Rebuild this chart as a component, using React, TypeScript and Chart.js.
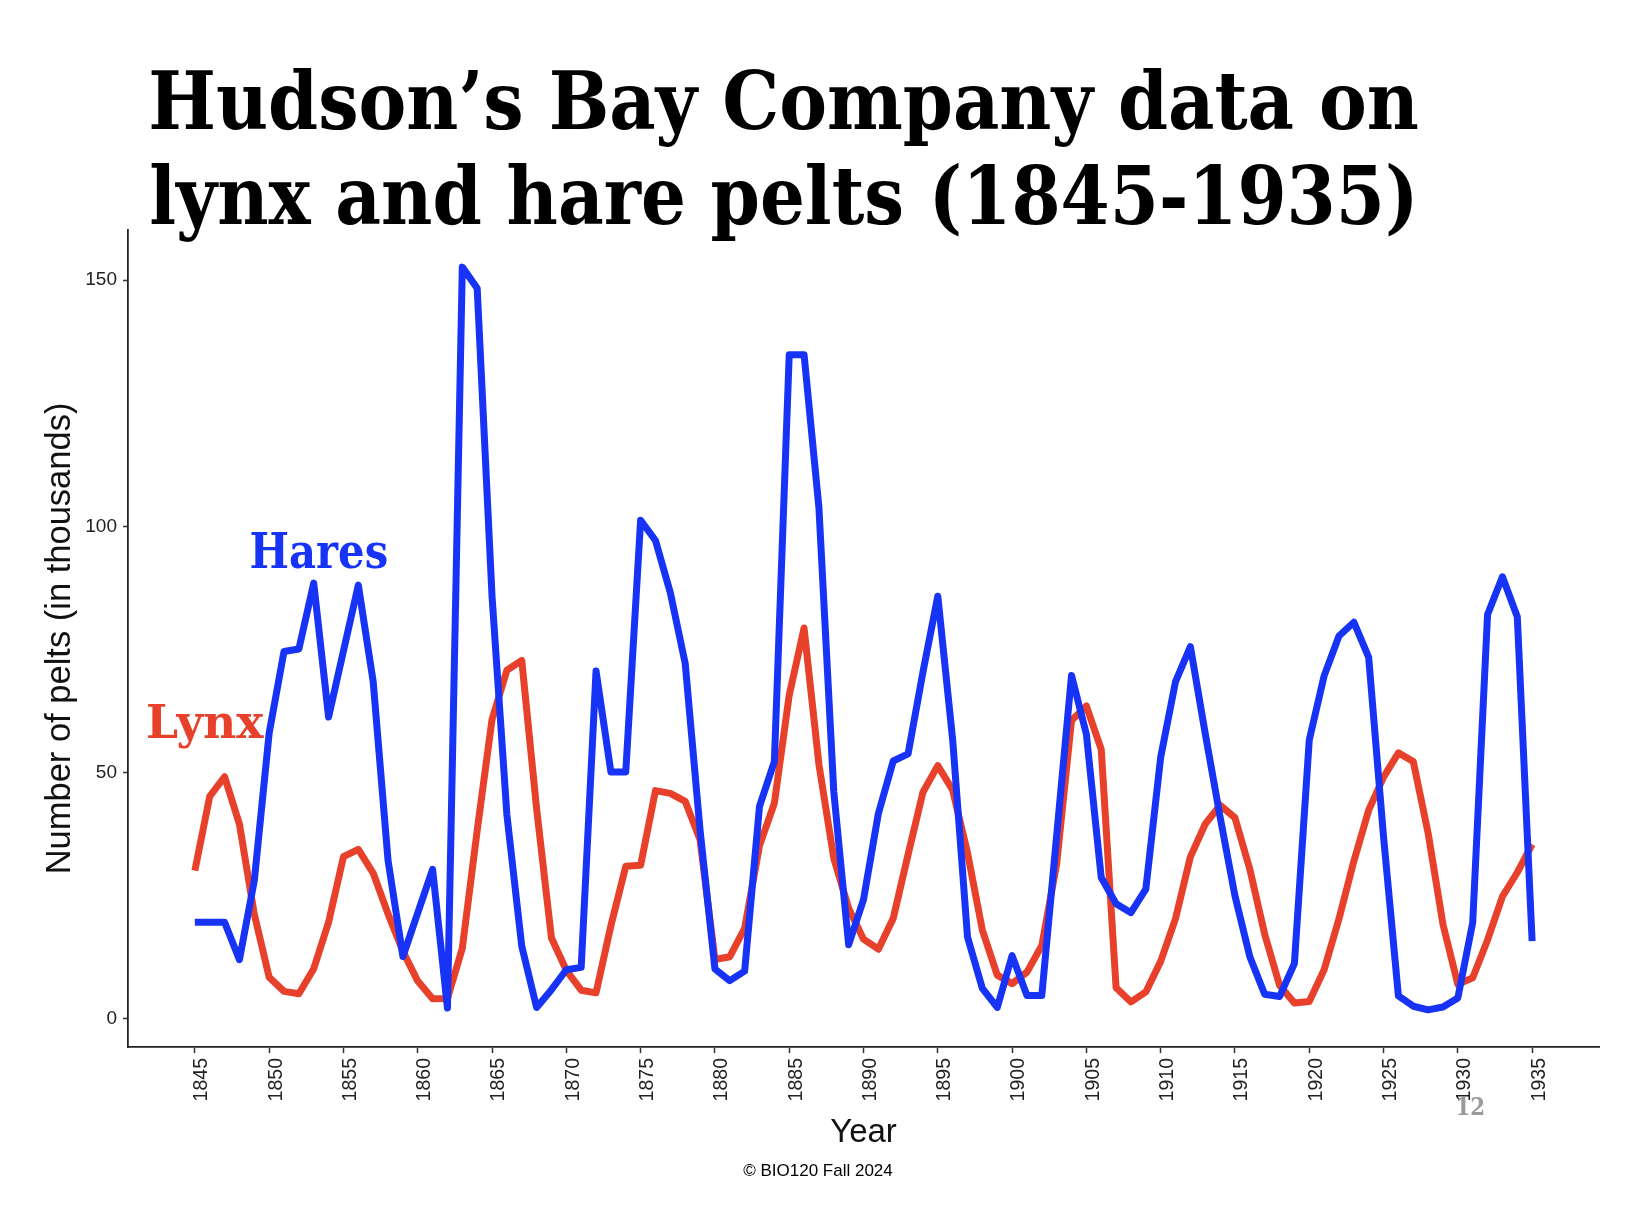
import React, { useEffect, useRef } from 'react';
import { Chart, registerables } from 'chart.js';

Chart.register(...registerables);

// ---------- data (thousands of pelts) ----------
const years = [
  1845, 1846, 1847, 1848, 1849, 1850, 1851, 1852, 1853, 1854,
  1855, 1856, 1857, 1858, 1859, 1860, 1861, 1862, 1863, 1864,
  1865, 1866, 1867, 1868, 1869, 1870, 1871, 1872, 1873, 1874,
  1875, 1876, 1877, 1878, 1879, 1880, 1881, 1882, 1883, 1884,
  1885, 1886, 1887, 1888, 1889, 1890, 1891, 1892, 1893, 1894,
  1895, 1896, 1897, 1898, 1899, 1900, 1901, 1902, 1903, 1904,
  1905, 1906, 1907, 1908, 1909, 1910, 1911, 1912, 1913, 1914,
  1915, 1916, 1917, 1918, 1919, 1920, 1921, 1922, 1923, 1924,
  1925, 1926, 1927, 1928, 1929, 1930, 1931, 1932, 1933, 1934,
  1935,
];

const hares = [
  19.58, 19.6, 19.61, 11.99, 28.04, 58.0, 74.6, 75.09, 88.48, 61.28,
  74.67, 88.06, 68.51, 32.19, 12.64, 21.49, 30.35, 2.18, 152.65, 148.36,
  85.81, 41.41, 14.75, 2.28, 5.91, 9.95, 10.44, 70.64, 50.12, 50.13,
  101.25, 97.12, 86.51, 72.17, 38.32, 10.11, 7.74, 9.67, 43.12, 52.21,
  134.85, 134.86, 103.79, 46.1, 15.03, 24.2, 41.65, 52.34, 53.78, 70.4,
  85.81, 56.69, 16.59, 6.16, 2.3, 12.82, 4.72, 4.73, 37.22, 69.72,
  57.78, 28.68, 23.37, 21.54, 26.34, 53.1, 68.48, 75.58, 57.92, 40.97,
  24.95, 12.59, 4.97, 4.5, 11.21, 56.6, 69.63, 77.74, 80.53, 73.38,
  36.93, 4.64, 2.54, 1.8, 2.39, 4.23, 19.52, 82.11, 89.76, 81.66,
  15.76,
];

const lynx = [
  30.09, 45.15, 49.15, 39.52, 21.23, 8.42, 5.56, 5.08, 10.17, 19.6,
  32.91, 34.38, 29.59, 21.3, 13.69, 7.65, 4.08, 4.09, 14.33, 38.22,
  60.78, 70.77, 72.77, 42.68, 16.39, 9.83, 5.8, 5.26, 18.91, 30.95,
  31.18, 46.34, 45.77, 44.15, 36.33, 12.03, 12.6, 18.34, 35.14, 43.77,
  65.69, 79.35, 51.65, 32.59, 22.45, 16.16, 14.12, 20.38, 33.33, 46.0,
  51.41, 46.43, 33.68, 18.01, 8.86, 7.13, 9.47, 14.86, 31.47, 60.57,
  63.51, 54.7, 6.3, 3.41, 5.44, 11.65, 20.35, 32.88, 39.55, 43.36,
  40.83, 30.36, 17.18, 6.82, 3.19, 3.52, 9.94, 20.3, 31.99, 42.36,
  49.08, 53.99, 52.25, 37.7, 19.14, 6.98, 8.31, 16.01, 24.82, 29.7,
  35.4,
];

const xTickValues = [
  1845, 1850, 1855, 1860, 1865, 1870, 1875, 1880, 1885, 1890,
  1895, 1900, 1905, 1910, 1915, 1920, 1925, 1930, 1935,
];
const yTickValues = [0, 50, 100, 150];

const titleLines = ['Hudson’s Bay Company data on', 'lynx and hare pelts (1845-1935)'];
const seriesNames = ['Hares', 'Lynx'];
const seriesColors = ['#1733f6', '#e8412b'];
// in-plot series labels: anchor (left, baseline) in data coordinates
const labelYears = [1848.8, 1841.85];
const labelValues = [91.6, 57.0];
const xAxisTitle = 'Year';
const yAxisTitle = 'Number of pelts (in thousands)';
const footerText = '© BIO120 Fall 2024';
const slideNumber = '12';

const SANS = '"Liberation Sans", Arial, Helvetica, sans-serif';
const SLAB = '"DejaVu Serif", serif';

function fitText(
  ctx: CanvasRenderingContext2D,
  text: string,
  x: number,
  y: number,
  font: string,
  width: number,
  color: string,
) {
  ctx.save();
  ctx.font = font;
  ctx.fillStyle = color;
  ctx.textAlign = 'left';
  ctx.textBaseline = 'alphabetic';
  const m = ctx.measureText(text);
  const inkW = (m.actualBoundingBoxRight || m.width) + (m.actualBoundingBoxLeft || 0);
  const left = -(m.actualBoundingBoxLeft || 0);
  const s = width / inkW;
  ctx.translate(x, y);
  ctx.scale(s, 1);
  ctx.fillText(text, -left, 0);
  ctx.restore();
}

const textPlugin = {
  id: 'textPlugin',
  afterDraw(chart: any) {
    const ctx: CanvasRenderingContext2D = chart.ctx;
    const xs = chart.scales.x;
    const ys = chart.scales.y;
    const area = chart.chartArea;

    // main title
    fitText(ctx, titleLines[0], 151, 129, `bold 81px ${SLAB}`, 1267, '#000');
    fitText(ctx, titleLines[1], 151, 224, `bold 81px ${SLAB}`, 1261, '#000');

    // series labels
    const labelWidths = [136, 116];
    const labelSizes = [48, 46];
    for (let i = 0; i < seriesNames.length; i++) {
      const px = xs.getPixelForValue(labelYears[i]);
      const py = ys.getPixelForValue(labelValues[i]);
      fitText(ctx, seriesNames[i], px, py, `bold ${labelSizes[i]}px ${SLAB}`, labelWidths[i], seriesColors[i]);
    }

    // axis titles
    ctx.save();
    ctx.fillStyle = '#111';
    ctx.font = `33px ${SANS}`;
    ctx.textAlign = 'center';
    ctx.textBaseline = 'alphabetic';
    ctx.fillText(xAxisTitle, (area.left + area.right) / 2, 1142);
    ctx.font = `34.5px ${SANS}`;
    ctx.translate(70, (area.top + area.bottom) / 2);
    ctx.rotate(-Math.PI / 2);
    ctx.fillText(yAxisTitle, 0, 0);
    ctx.restore();

    // footer
    ctx.save();
    ctx.fillStyle = '#000';
    ctx.font = `17px ${SANS}`;
    ctx.textAlign = 'center';
    ctx.textBaseline = 'alphabetic';
    ctx.fillText(footerText, 818, 1176);
    ctx.restore();

    // slide number
    fitText(ctx, slideNumber, 1458, 1115, `bold 25px ${SLAB}`, 26, '#9a9a9a');
  },
};

export default function App() {
  const canvasRef = useRef<HTMLCanvasElement | null>(null);

  useEffect(() => {
    const canvas = canvasRef.current;
    if (!canvas) return;
    const chart = new Chart(canvas, {
      type: 'line',
      data: {
        datasets: [
          {
            label: seriesNames[0],
            data: years.map((yr, i) => ({ x: yr, y: hares[i] })),
            borderColor: seriesColors[0],
            backgroundColor: seriesColors[0],
            borderWidth: 7,
            pointRadius: 0,
            tension: 0,
            borderJoinStyle: 'round',
            borderCapStyle: 'butt',
            fill: false,
          },
          {
            label: seriesNames[1],
            data: years.map((yr, i) => ({ x: yr, y: lynx[i] })),
            borderColor: seriesColors[1],
            backgroundColor: seriesColors[1],
            borderWidth: 7,
            pointRadius: 0,
            tension: 0,
            borderJoinStyle: 'round',
            borderCapStyle: 'butt',
            fill: false,
          },
        ],
      },
      options: {
        animation: false,
        responsive: false,
        maintainAspectRatio: false,
        devicePixelRatio: 1,
        layout: { padding: { left: 0, top: 230, right: 51, bottom: 0 } },
        plugins: {
          legend: { display: false },
          title: { display: false },
          tooltip: { enabled: false },
        },
        scales: {
          x: {
            type: 'linear',
            min: 1840.5,
            max: 1939.5,
            afterFit: (scale: any) => {
              scale.height = 177;
            },
            afterBuildTicks: (scale: any) => {
              scale.ticks = xTickValues.map((v) => ({ value: v }));
            },
            ticks: {
              autoSkip: false,
              minRotation: 90,
              maxRotation: 90,
              padding: 5,
              labelOffset: 7,
              color: '#222',
              font: { family: SANS, size: 19.5 },
              callback: (v: any) => String(v),
            },
            grid: {
              display: true,
              drawOnChartArea: false,
              drawTicks: true,
              tickLength: 6,
              tickWidth: 1.5,
              tickColor: '#333',
              color: '#333',
            },
            border: { display: true, color: '#222', width: 1.8 },
          },
          y: {
            type: 'linear',
            min: -5.74,
            max: 160.19,
            afterFit: (scale: any) => {
              scale.width = 128;
            },
            afterBuildTicks: (scale: any) => {
              scale.ticks = yTickValues.map((v) => ({ value: v }));
            },
            ticks: {
              padding: 6,
              color: '#222',
              font: { family: SANS, size: 19 },
              callback: (v: any) => String(v),
            },
            grid: {
              display: true,
              drawOnChartArea: false,
              drawTicks: true,
              tickLength: 5,
              tickWidth: 1.5,
              tickColor: '#333',
              color: '#333',
            },
            border: { display: true, color: '#222', width: 1.8 },
          },
        },
      },
      plugins: [textPlugin],
    } as any);
    return () => chart.destroy();
  }, []);

  return (
    <div
      style={{
        position: 'absolute',
        left: 0,
        top: 0,
        width: 1650,
        height: 1224,
        background: '#fff',
      }}
    >
      <canvas
        ref={canvasRef}
        width={1650}
        height={1224}
        style={{ display: 'block', width: 1650, height: 1224 }}
      />
    </div>
  );
}
